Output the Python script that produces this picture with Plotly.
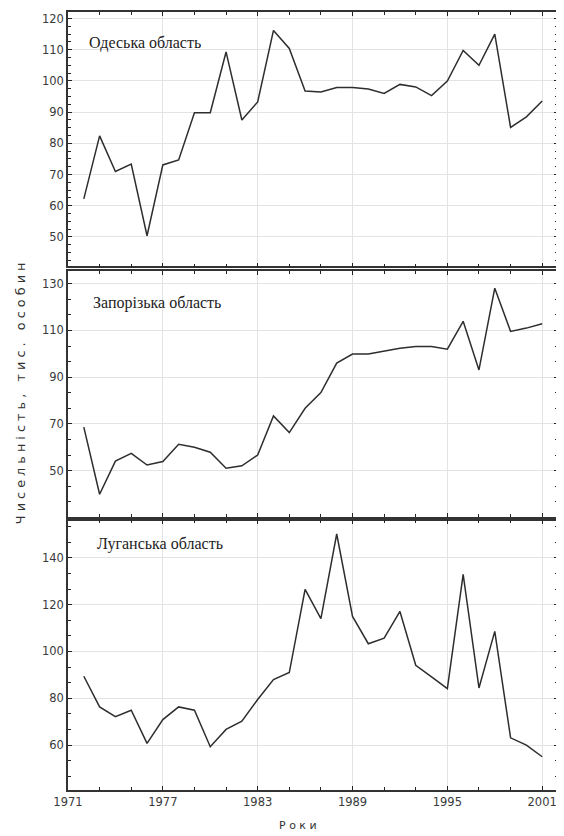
import plotly.graph_objects as go

years = list(range(1972, 2002))

odesa = [62.2, 82.4, 71.0, 73.4, 50.4, 73.1, 74.7, 89.8, 89.8, 109.3,
         87.5, 93.3, 116.2, 110.4, 96.8, 96.5, 97.9, 97.9, 97.4, 96.0,
         98.9, 98.1, 95.3, 100.0, 109.8, 105.0, 115.0, 85.1, 88.5, 93.6]
zaporizhzhia = [68.6, 39.9, 54.1, 57.4, 52.4, 53.9, 61.3, 60.0, 57.9, 51.0,
                52.1, 56.7, 73.4, 66.3, 76.7, 83.4, 96.0, 99.9, 99.9, 101.0,
                102.4, 103.1, 103.1, 102.0, 113.9, 93.1, 128.1, 109.6, 111.0, 112.9]
luhansk = [89.4, 76.3, 72.1, 74.9, 60.7, 70.9, 76.3, 74.9, 59.3, 66.7,
           70.2, 79.5, 88.0, 91.0, 126.5, 114.0, 150.2, 115.0, 103.3, 105.7,
           117.1, 94.1, 89.1, 84.1, 132.9, 84.4, 108.6, 63.1, 60.0, 55.0]

panel_names = ["Одеська область", "Запорізька область", "Луганська область"]
series = [odesa, zaporizhzhia, luhansk]
y_ranges = [[40.6, 122.1], [30.3, 135.3], [40.8, 155.9]]
y_dticks = [10, 20, 20]
y_tick0 = [50, 50, 60]
y_minor = [2.5, 20 / 3, 20 / 3]
x_tickvals = [1971, 1977, 1983, 1989, 1995, 2001]

y_title = "Ч и с е л ь н і с т ь ,   т и с .   о с о б и н"
x_title = "Р о к и"

domains = [[0.6731, 1.0], [0.3513, 0.6667], [0.0, 0.3462]]
label_pos = [(0.039, 0.88), (0.047, 0.87), (0.055, 0.915)]

fig = go.Figure()
tick_font = dict(family="DejaVu Sans", size=11.5, color="#3a3a3a")

for i, (name, vals) in enumerate(zip(panel_names, series)):
    n = i + 1
    xa = "x" if n == 1 else f"x{n}"
    ya = "y" if n == 1 else f"y{n}"
    fig.add_trace(go.Scatter(x=years, y=vals, mode="lines",
                             line=dict(color="#2e2e2e", width=1.5),
                             xaxis=xa, yaxis=ya, showlegend=False))
    xkey = "xaxis" if n == 1 else f"xaxis{n}"
    ykey = "yaxis" if n == 1 else f"yaxis{n}"
    fig.layout[xkey] = dict(
        domain=[0, 1], anchor=ya, range=[1971, 2002],
        tickmode="array", tickvals=x_tickvals,
        showticklabels=(n == 3), ticks="inside", ticklen=4,
        tickcolor="#222222",
        showgrid=True, gridcolor="#e3e3e3", gridwidth=1,
        showline=True, linecolor="#333333", linewidth=1.5, mirror="ticks",
        minor=dict(ticks="inside", tickvals=list(range(1973, 2002, 2)), ticklen=3,
                   tickcolor="#222222", showgrid=False),
        zeroline=False, tickfont=tick_font,
    )
    fig.layout[ykey] = dict(
        domain=domains[i], anchor=xa, range=y_ranges[i],
        tick0=y_tick0[i], dtick=y_dticks[i],
        ticks="inside", ticklen=4, tickcolor="#222222",
        showgrid=True, gridcolor="#e3e3e3", gridwidth=1,
        showline=True, linecolor="#333333", linewidth=1.5, mirror="ticks",
        minor=dict(ticks="inside", dtick=y_minor[i], tick0=y_tick0[i], ticklen=3,
                   tickcolor="#222222", showgrid=False),
        zeroline=False, tickfont=tick_font,
    )
    fig.add_annotation(text=name, xref=f"{xa} domain", yref=f"{ya} domain",
                       x=label_pos[i][0], y=label_pos[i][1],
                       xanchor="left", yanchor="middle", showarrow=False,
                       font=dict(family="Liberation Serif, Times New Roman",
                                 size=16, color="#222222"))

fig.add_annotation(text=y_title, xref="paper", yref="paper", x=-0.098, y=0.51,
                   textangle=-90, showarrow=False, xanchor="center", yanchor="middle",
                   font=dict(family="DejaVu Sans", size=12.8, color="#333333"))
fig.add_annotation(text=x_title, xref="paper", yref="paper", x=0.469, y=-0.046,
                   showarrow=False, xanchor="center", yanchor="middle",
                   font=dict(family="DejaVu Sans", size=11, color="#333333"))

fig.update_layout(width=556, height=828,
                  margin=dict(l=60, r=6, t=2, b=46),
                  paper_bgcolor="white", plot_bgcolor="white")

fig.write_html("out.html")
